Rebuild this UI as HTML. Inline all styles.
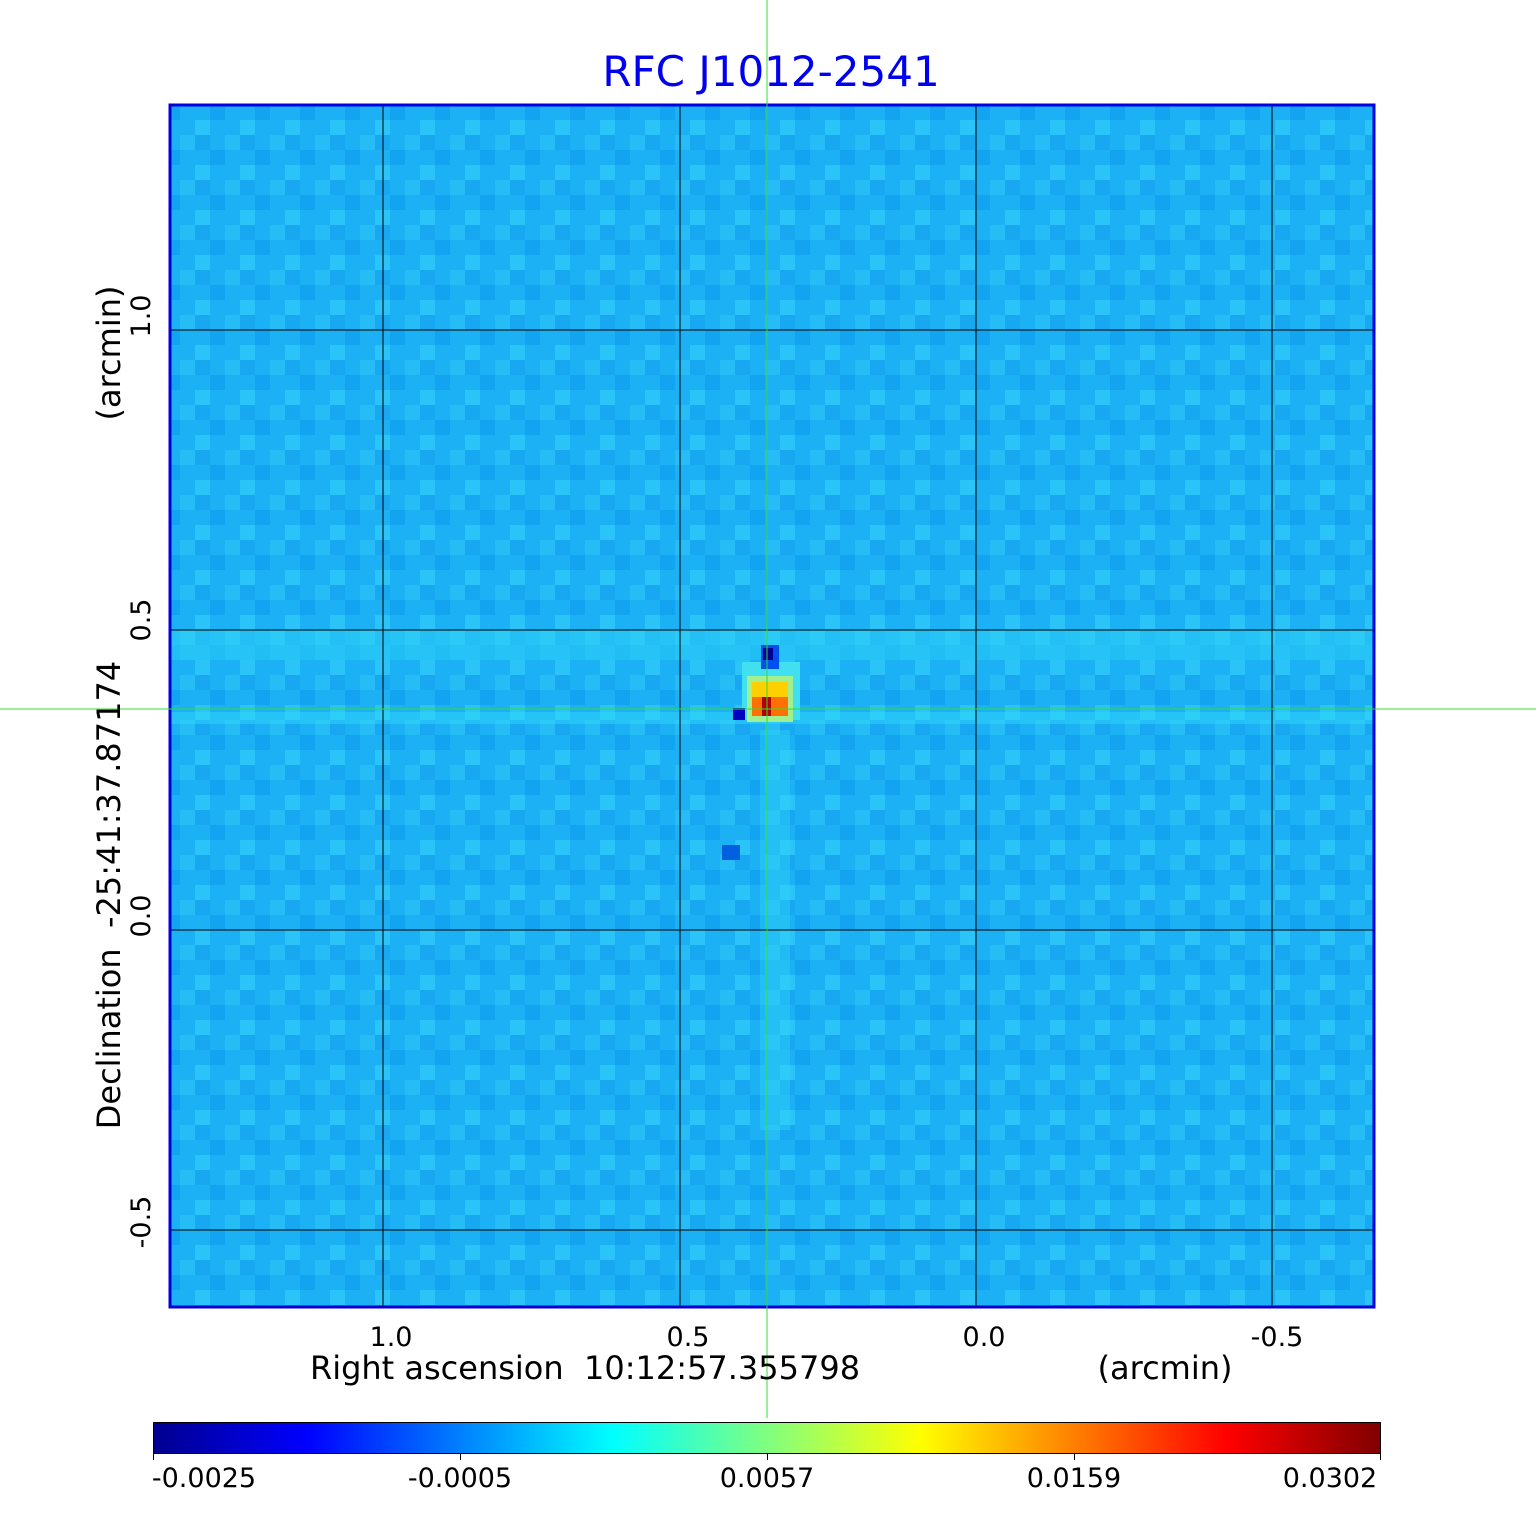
<!DOCTYPE html>
<html><head><style>
html,body{margin:0;padding:0;background:#fff;}
svg text{font-family:"DejaVu Sans","Liberation Sans",sans-serif;white-space:pre;}
</style></head><body>
<svg width="1536" height="1511" viewBox="0 0 1536 1511" xmlns="http://www.w3.org/2000/svg" xml:space="preserve">
<defs>
<linearGradient id="jet" x1="0" x2="1" y1="0" y2="0">
<stop offset="0" stop-color="#00008f"/>
<stop offset="0.125" stop-color="#0000ff"/>
<stop offset="0.375" stop-color="#00ffff"/>
<stop offset="0.625" stop-color="#ffff00"/>
<stop offset="0.875" stop-color="#ff0000"/>
<stop offset="1" stop-color="#800000"/>
</linearGradient>
<pattern id="noise" width="45" height="45" patternUnits="userSpaceOnUse">
<rect width="45" height="45" fill="#1cb0f4"/>
<rect x="0" y="0" width="15" height="15" fill="#26bcf6"/>
<rect x="30" y="15" width="15" height="15" fill="#12a4f0"/>
<rect x="15" y="30" width="15" height="15" fill="#2ac4f8"/>
<rect x="15" y="0" width="15" height="15" fill="#18a8f2"/>
</pattern>
</defs>
<text x="771" y="86" font-size="42" fill="#0000ee" text-anchor="middle">RFC J1012-2541</text>
<rect x="171" y="106" width="1202" height="1200" fill="url(#noise)"/>
<rect x="171" y="630" width="1202" height="30" fill="#30d8f8" opacity="0.5"/>
<rect x="171" y="712" width="1202" height="12" fill="#30d8f8" opacity="0.5"/>
<rect x="760" y="730" width="30" height="400" fill="#30d8f8" opacity="0.4"/>
<rect x="742" y="662" width="58" height="58" fill="#40e0f0"/>
<rect x="747" y="676" width="46" height="46" fill="#a0f090"/>
<rect x="752" y="682" width="36" height="34" fill="#ffd000"/>
<rect x="752" y="697" width="36" height="19" fill="#ff7000"/>
<rect x="762" y="697" width="9" height="19" fill="#b00000"/>
<rect x="761" y="645" width="18" height="24" fill="#0050f0"/>
<rect x="763" y="648" width="10" height="12" fill="#000090"/>
<rect x="733" y="708" width="12" height="12" fill="#0000c0"/>
<rect x="722" y="845" width="18" height="15" fill="#0060e0"/>
<g stroke="#000" stroke-width="1">
<line x1="383" y1="106" x2="383" y2="1306"/><line x1="680" y1="106" x2="680" y2="1306"/>
<line x1="976" y1="106" x2="976" y2="1306"/><line x1="1272" y1="106" x2="1272" y2="1306"/>
<line x1="171" y1="330" x2="1373" y2="330"/><line x1="171" y1="630" x2="1373" y2="630"/>
<line x1="171" y1="930" x2="1373" y2="930"/><line x1="171" y1="1230" x2="1373" y2="1230"/>
</g>
<rect x="170" y="105" width="1204" height="1202" fill="none" stroke="#0000dd" stroke-width="3"/>
<line x1="767" y1="0" x2="767" y2="1418" stroke="#33dd33" stroke-width="1"/>
<line x1="0" y1="709" x2="1536" y2="709" stroke="#33dd33" stroke-width="1"/>
<g font-size="27" text-anchor="middle" fill="#000">
<text x="391" y="1346">1.0</text><text x="688" y="1346">0.5</text>
<text x="984" y="1346">0.0</text><text x="1277" y="1346">-0.5</text>
</g>
<text x="585" y="1379" font-size="32" text-anchor="middle">Right ascension  10:12:57.355798</text>
<text x="1165" y="1379" font-size="32" text-anchor="middle">(arcmin)</text>
<g font-size="27" text-anchor="middle">
<text transform="translate(150,316) rotate(-90)">1.0</text>
<text transform="translate(150,620) rotate(-90)">0.5</text>
<text transform="translate(150,916) rotate(-90)">0.0</text>
<text transform="translate(150,1222) rotate(-90)">-0.5</text>
</g>
<text transform="translate(120,895) rotate(-90)" font-size="32" text-anchor="middle">Declination  -25:41:37.87174</text>
<text transform="translate(120,353) rotate(-90)" font-size="32" text-anchor="middle">(arcmin)</text>
<rect x="153.5" y="1422.5" width="1227" height="31" fill="url(#jet)" stroke="#000" stroke-width="1"/>
<g stroke="#000"><line x1="153.5" y1="1453" x2="153.5" y2="1460"/><line x1="460.5" y1="1453" x2="460.5" y2="1460"/><line x1="767.5" y1="1453" x2="767.5" y2="1460"/><line x1="1074.5" y1="1453" x2="1074.5" y2="1460"/><line x1="1380.5" y1="1453" x2="1380.5" y2="1460"/></g>
<g font-size="27" text-anchor="middle">
<text x="204" y="1487">-0.0025</text><text x="460" y="1487">-0.0005</text>
<text x="767" y="1487">0.0057</text><text x="1074" y="1487">0.0159</text><text x="1330" y="1487">0.0302</text>
</g>
</svg>
</body></html>
